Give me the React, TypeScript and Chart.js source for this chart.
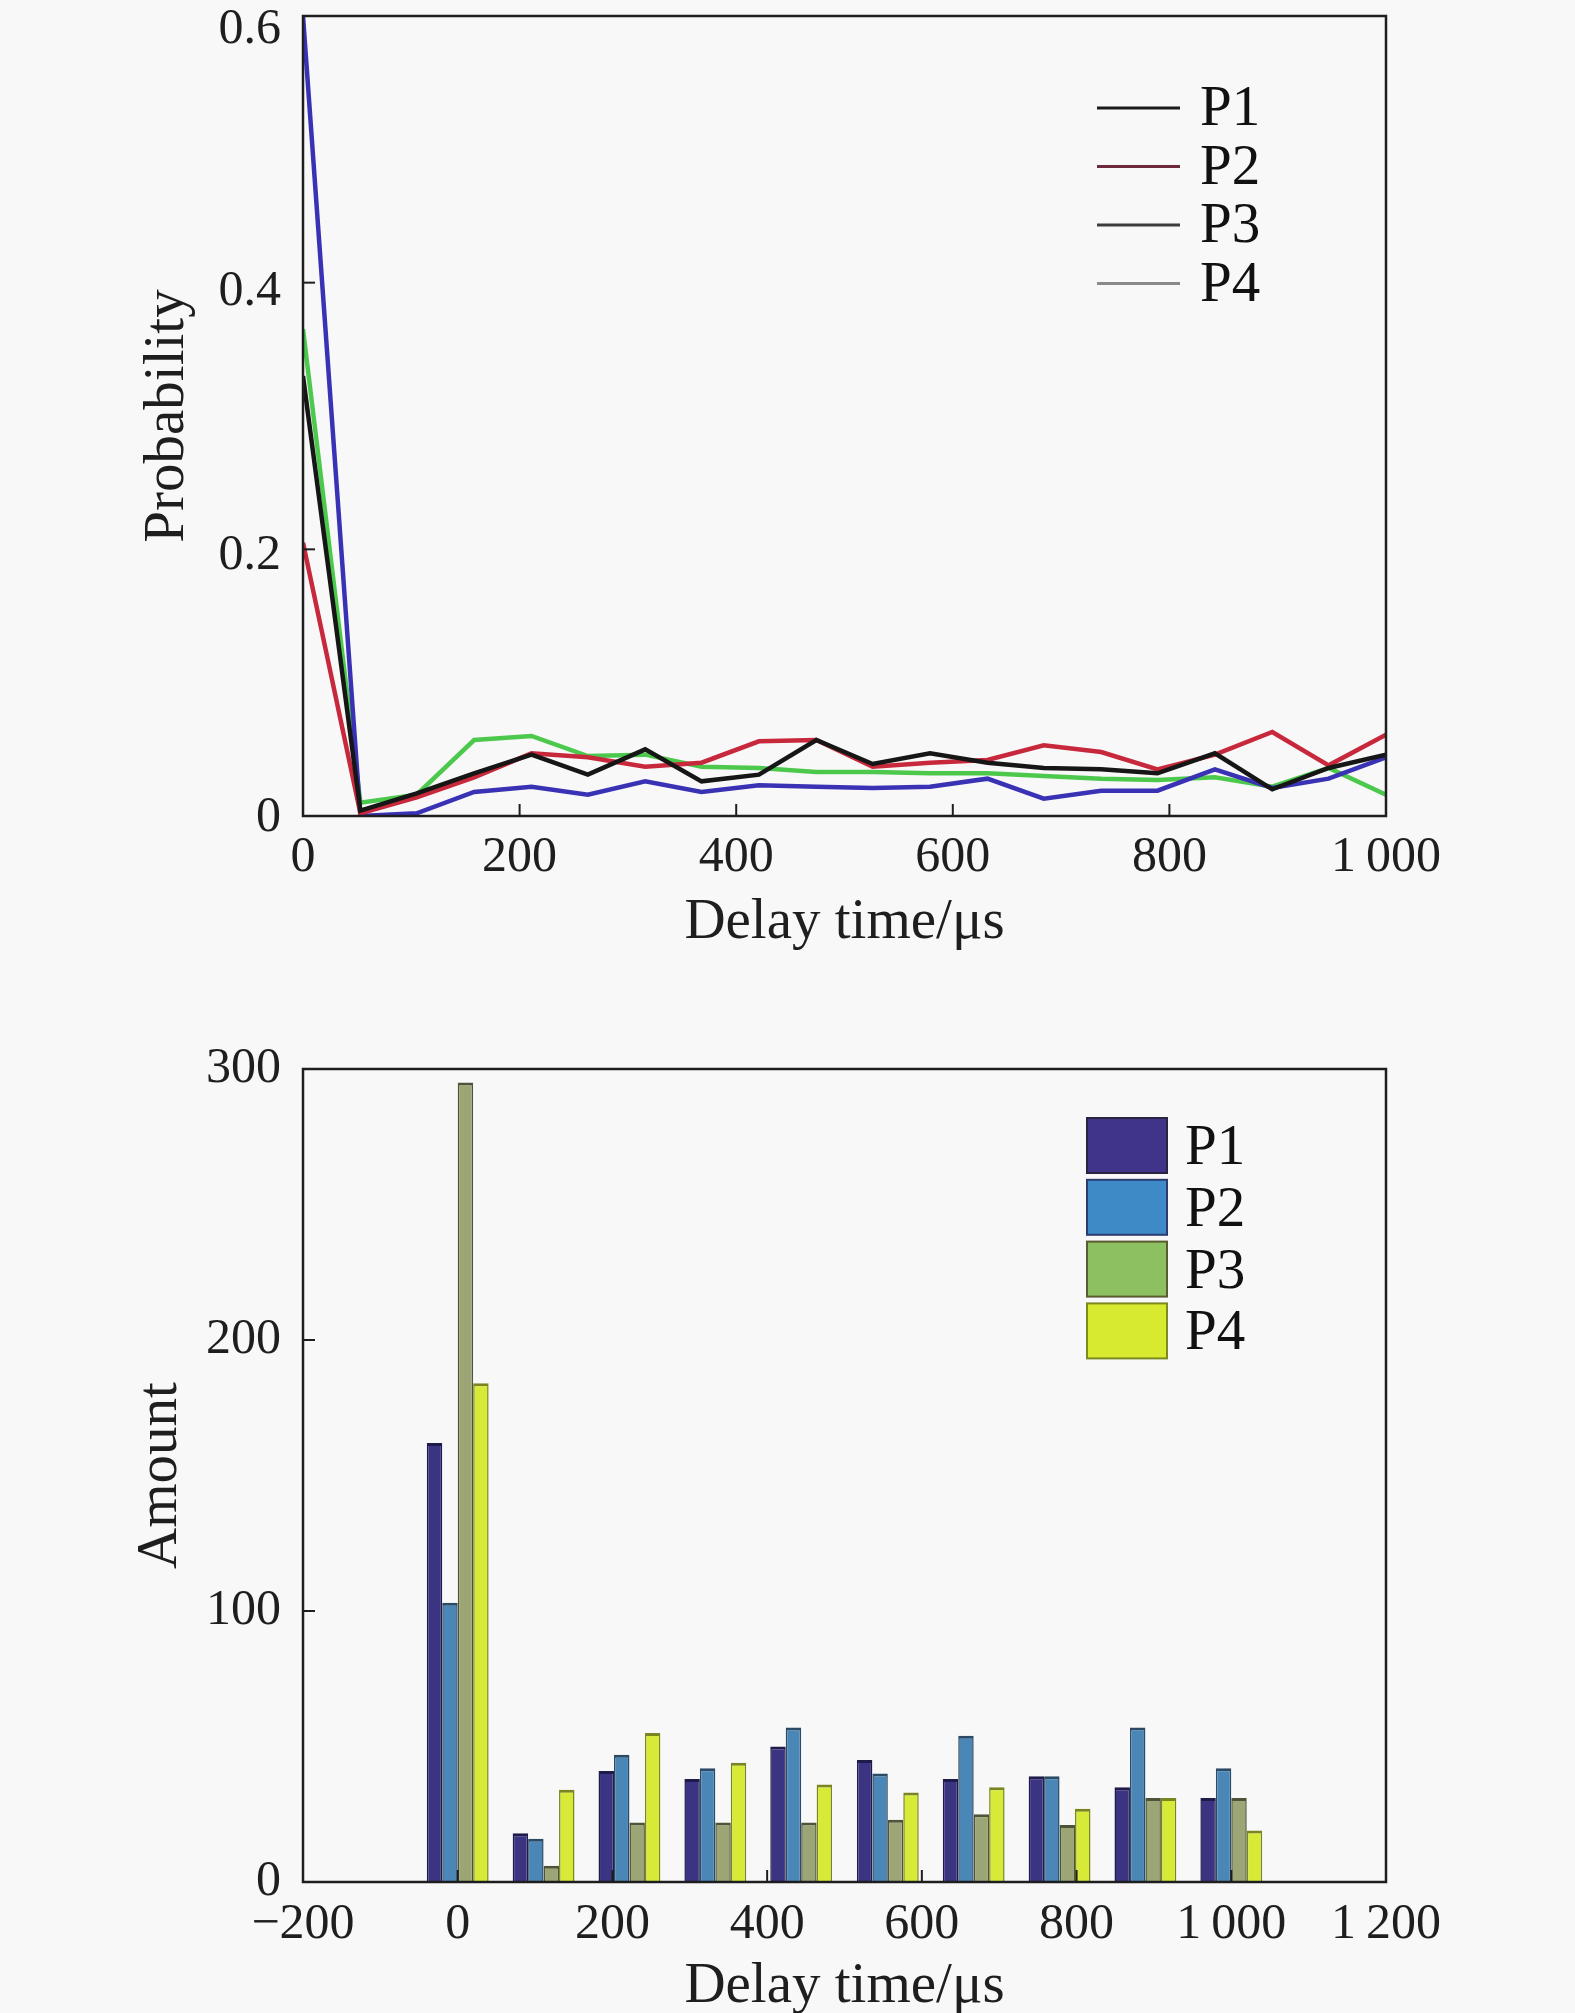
import React, { useEffect, useRef } from 'react';
import { Chart, registerables } from 'chart.js';

Chart.register(...registerables);

// ---------- data ----------
const seriesNames = ['P1', 'P2', 'P3', 'P4'];

// top chart: probability vs delay time (µs)
const delayTimes = [0, 53, 105, 158, 211, 263, 316, 368, 421, 474, 526, 579, 632, 684, 737, 789, 842, 895, 947, 1000];
const p1Prob = [0.33, 0.004, 0.017, 0.032, 0.046, 0.031, 0.05, 0.026, 0.031, 0.057, 0.039, 0.047, 0.04, 0.036, 0.035, 0.032, 0.047, 0.02, 0.036, 0.046];
const p2Prob = [0.205, 0.002, 0.014, 0.029, 0.047, 0.044, 0.037, 0.04, 0.056, 0.057, 0.037, 0.04, 0.042, 0.053, 0.048, 0.035, 0.046, 0.063, 0.038, 0.061];
const p3Prob = [0.6, 0.0, 0.002, 0.018, 0.022, 0.016, 0.026, 0.018, 0.023, 0.022, 0.021, 0.022, 0.028, 0.013, 0.019, 0.019, 0.035, 0.021, 0.028, 0.044];
const p4Prob = [0.365, 0.01, 0.016, 0.057, 0.06, 0.045, 0.046, 0.037, 0.036, 0.033, 0.033, 0.032, 0.032, 0.03, 0.028, 0.027, 0.029, 0.022, 0.036, 0.016];

// bottom chart: amount per delay-time group
const groupCenters = [0, 111, 222, 333, 444, 556, 667, 778, 889, 1000];
const p1Amount = [162, 18, 41, 38, 50, 45, 38, 39, 35, 31];
const p2Amount = [103, 16, 47, 42, 57, 40, 54, 39, 57, 42];
const p3Amount = [295, 6, 22, 22, 22, 23, 25, 21, 31, 31];
const p4Amount = [184, 34, 55, 44, 36, 33, 35, 27, 31, 19];

// ---------- styles ----------
const BG = '#f8f8f8';
const INK = '#1e1e1e';
const FONT = '"Liberation Serif", "Times New Roman", serif';
const lineColors = ['#161616', '#c8283c', '#3a32b4', '#4cc94c'];
const lineLegendColors = ['#1a1a1a', '#6e2a3c', '#3c3c3c', '#8a8a8a'];
const barFill = ['#3a3482', '#4a86b6', '#9ba575', '#d8ea38'];
const barEdge = ['#1f1b4a', '#2a4a66', '#4e5438', '#7a8420'];
const barLegendFill = ['#40348a', '#3d8ac6', '#8cc060', '#d8ea30'];
const barLegendEdge = ['#2a2440', '#2c3c70', '#5a5c30', '#7c8a20'];

const fmtX = (v: number) => {
  if (v < 0) return '\u2212' + Math.abs(v);
  if (v >= 1000) {
    const s = String(v);
    return s.slice(0, s.length - 3) + '\u2009' + s.slice(s.length - 3);
  }
  return String(v);
};

const framePlugin = {
  id: 'frameTicks',
  afterDatasetsDraw(chart: any) {
    const { ctx, chartArea: a, scales } = chart;
    ctx.save();
    ctx.strokeStyle = INK;
    ctx.lineWidth = 2;
    const tl = 12;
    scales.x.ticks.forEach((t: any) => {
      const px = scales.x.getPixelForValue(t.value);
      if (px > a.left + 3 && px < a.right - 3) {
        ctx.beginPath();
        ctx.moveTo(px, a.bottom);
        ctx.lineTo(px, a.bottom - tl);
        ctx.stroke();
      }
    });
    scales.y.ticks.forEach((t: any) => {
      const py = scales.y.getPixelForValue(t.value);
      if (py > a.top + 3 && py < a.bottom - 3) {
        ctx.beginPath();
        ctx.moveTo(a.left, py);
        ctx.lineTo(a.left + tl, py);
        ctx.stroke();
      }
    });
    ctx.lineWidth = 2.5;
    ctx.strokeRect(a.left, a.top, a.right - a.left, a.bottom - a.top);
    ctx.restore();
  },
};

const bgPlugin = {
  id: 'bg',
  beforeDraw(chart: any) {
    const { ctx } = chart;
    ctx.save();
    ctx.fillStyle = BG;
    ctx.fillRect(0, 0, chart.width, chart.height);
    ctx.restore();
  },
};

// y tick labels of the probability chart sit slightly below their tick marks
const probLabelOffset = (v: number) => {
  if (v > 0.55) return 14;
  if (v > 0.35) return 9;
  if (v > 0.15) return 7;
  return 2;
};

const probYLabelsPlugin = {
  id: 'probYLabels',
  afterDraw(chart: any) {
    const { ctx, chartArea: a, scales } = chart;
    ctx.save();
    ctx.font = `50px ${FONT}`;
    ctx.fillStyle = INK;
    ctx.textAlign = 'right';
    ctx.textBaseline = 'middle';
    scales.y.ticks.forEach((t: any) => {
      const py = scales.y.getPixelForValue(t.value);
      ctx.fillText(t.label, a.left - 22, py + probLabelOffset(t.value));
    });
    ctx.restore();
  },
};

function makeLineLegend() {
  return {
    id: 'lineLegend',
    afterDraw(chart: any) {
      const { ctx } = chart;
      ctx.save();
      ctx.font = `57px ${FONT}`;
      ctx.textBaseline = 'alphabetic';
      ctx.textAlign = 'left';
      chart.data.datasets.forEach((ds: any, i: number) => {
        const y = 108 + i * 58.5;
        ctx.strokeStyle = lineLegendColors[i];
        ctx.lineWidth = 3;
        ctx.beginPath();
        ctx.moveTo(1097, y);
        ctx.lineTo(1180, y);
        ctx.stroke();
        ctx.fillStyle = '#111';
        ctx.fillText(ds.label, 1200, y + 17);
      });
      ctx.restore();
    },
  };
}

function makeBarLegend() {
  return {
    id: 'barLegend',
    afterDraw(chart: any) {
      const { ctx } = chart;
      ctx.save();
      ctx.font = `57px ${FONT}`;
      ctx.textBaseline = 'alphabetic';
      ctx.textAlign = 'left';
      chart.data.datasets.forEach((ds: any, i: number) => {
        const top = 118 + i * 61.8;
        ctx.fillStyle = barLegendFill[i];
        ctx.fillRect(1087, top, 80, 55);
        ctx.strokeStyle = barLegendEdge[i];
        ctx.lineWidth = 2;
        ctx.strokeRect(1087, top, 80, 55);
        ctx.fillStyle = '#111';
        ctx.fillText(ds.label, 1185, top + 46);
      });
      ctx.restore();
    },
  };
}

const tickFont = { family: FONT, size: 50 };
const titleFont = { family: FONT, size: 57 };

const fitY = (s: any) => {
  s.width = 303;
  s.paddingTop = 0;
  s.paddingBottom = 0;
};

function LineChart() {
  const ref = useRef<HTMLCanvasElement>(null);
  useEffect(() => {
    const probs = [p1Prob, p2Prob, p3Prob, p4Prob];
    const chart = new Chart(ref.current as HTMLCanvasElement, {
      type: 'line',
      data: {
        datasets: probs.map((arr, i) => ({
          label: seriesNames[i],
          data: delayTimes.map((x, j) => ({ x, y: arr[j] })),
          borderColor: lineColors[i],
          borderWidth: 4.5,
          pointRadius: 0,
          tension: 0,
          fill: false,
        })),
      },
      options: {
        animation: false,
        responsive: false,
        devicePixelRatio: 1,
        layout: { padding: { left: 0, right: 189, top: 16, bottom: 0 } },
        plugins: { legend: { display: false }, tooltip: { enabled: false } },
        scales: {
          x: {
            type: 'linear',
            min: 0,
            max: 1000,
            grid: { display: false },
            border: { display: false },
            ticks: { stepSize: 200, font: tickFont, color: INK, padding: 4, maxRotation: 0, callback: (v: any) => fmtX(Number(v)) },
            title: { display: true, text: 'Delay time/μs', font: titleFont, color: INK, padding: { top: 0, bottom: 43 } },
            afterFit: (s: any) => { s.height = 184; s.paddingLeft = 0; s.paddingRight = 0; },
          },
          y: {
            min: 0,
            max: 0.6,
            grid: { display: false },
            border: { display: false },
            ticks: {
              display: false,
              stepSize: 0.2,
              callback: (v: any) => (Number(v) === 0 ? '0' : Number(v).toFixed(1)),
            },
            title: { display: true, text: 'Probability', font: titleFont, color: INK, padding: { top: 134, bottom: 0 } },
            afterFit: fitY,
          },
        },
      },
      plugins: [bgPlugin, framePlugin, probYLabelsPlugin, makeLineLegend()],
    } as any);
    return () => chart.destroy();
  }, []);
  return <canvas ref={ref} width={1575} height={1000} style={{ display: 'block', width: 1575, height: 1000 }} />;
}

function BarChart() {
  const ref = useRef<HTMLCanvasElement>(null);
  useEffect(() => {
    const amounts = [p1Amount, p2Amount, p3Amount, p4Amount];
    const chart = new Chart(ref.current as HTMLCanvasElement, {
      type: 'bar',
      data: {
        datasets: amounts.map((arr, i) => ({
          label: seriesNames[i],
          data: groupCenters.map((x, j) => ({ x, y: arr[j] })),
          backgroundColor: barFill[i],
          borderColor: barEdge[i],
          borderWidth: { top: 3, left: 1.5, right: 1.5, bottom: 0 },
          borderSkipped: 'start',
          categoryPercentage: 0.72,
          barPercentage: 1.0,
        })),
      },
      options: {
        animation: false,
        responsive: false,
        devicePixelRatio: 1,
        layout: { padding: { left: 0, right: 189, top: 69, bottom: 0 } },
        plugins: { legend: { display: false }, tooltip: { enabled: false } },
        scales: {
          x: {
            type: 'linear',
            offset: false,
            min: -200,
            max: 1200,
            grid: { display: false },
            border: { display: false },
            ticks: { stepSize: 200, font: tickFont, color: INK, padding: 5, maxRotation: 0, callback: (v: any) => fmtX(Number(v)) },
            title: { display: true, text: 'Delay time/μs', font: titleFont, color: INK, padding: { top: 0, bottom: -8 } },
            afterFit: (s: any) => { s.height = 131; s.paddingLeft = 0; s.paddingRight = 0; },
          },
          y: {
            min: 0,
            max: 300,
            grid: { display: false },
            border: { display: false },
            ticks: { stepSize: 100, font: tickFont, color: INK, padding: 14 },
            title: { display: true, text: 'Amount', font: titleFont, color: INK, padding: { top: 127, bottom: 0 } },
            afterFit: fitY,
          },
        },
      },
      plugins: [bgPlugin, framePlugin, makeBarLegend()],
    } as any);
    return () => chart.destroy();
  }, []);
  return <canvas ref={ref} width={1575} height={1013} style={{ display: 'block', width: 1575, height: 1013 }} />;
}

export default function App() {
  return (
    <div style={{ position: 'absolute', left: 0, top: 0, width: 1575, height: 2013, background: BG, overflow: 'hidden' }}>
      <LineChart />
      <BarChart />
    </div>
  );
}
